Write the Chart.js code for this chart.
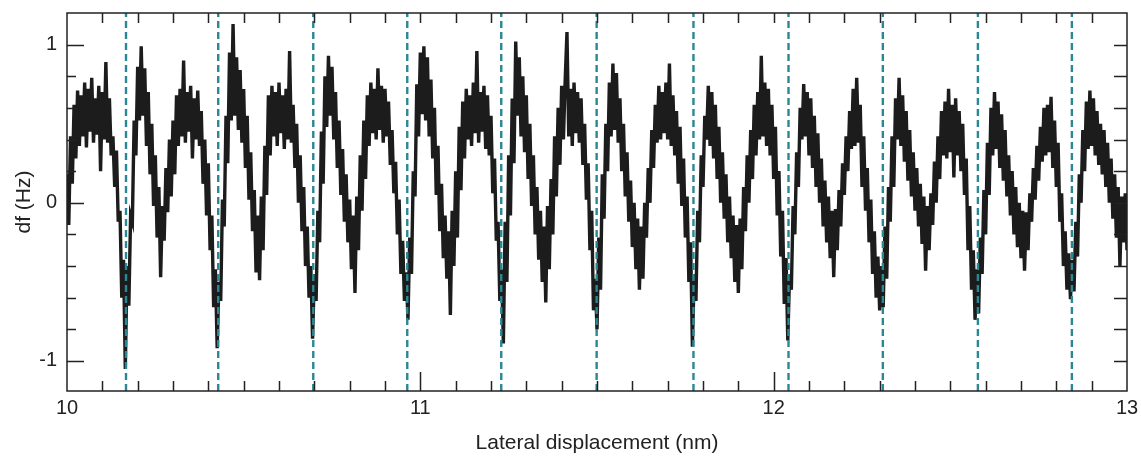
<!DOCTYPE html>
<html>
<head>
<meta charset="utf-8">
<title>df vs lateral displacement</title>
<script src="https://cdn.jsdelivr.net/npm/chart.js"></script>
<style>
  html, body { margin: 0; padding: 0; background: #fff; }
  #wrap { width: 1141px; height: 456px; }
</style>
</head>
<body>
<div id="wrap"><canvas id="dfChart" width="1141" height="456"></canvas></div>
<script>
// lateral displacement grid (nm): first sample and spacing
const xStart = 10;
const xStep = 0.005;

// df (Hz), one value per 0.005 nm
const dfValues = [
  0.18, -0.14, 0.42, 0.12, 0.62, 0.28, 0.71, 0.36, 0.68, 0.42, 0.76, 0.35, 0.72, 0.45, 0.79, 0.38, 0.66, 0.43, 0.74, 0.20,
  0.70, 0.40, 0.89, 0.38, 0.66, 0.30, 0.42, 0.10, 0.33, -0.12, -0.05, -0.60, -0.36, -1.05, -0.40, -0.65, -0.08, -0.12, 0.52, 0.30,
  0.86, 0.52, 0.99, 0.55, 0.85, 0.36, 0.70, 0.18, 0.50, -0.02, 0.30, -0.22, 0.10, -0.47, -0.02, -0.24, 0.22, -0.06, 0.40, 0.04,
  0.52, 0.18, 0.68, 0.36, 0.72, 0.42, 0.90, 0.38, 0.70, 0.45, 0.74, 0.28, 0.66, 0.40, 0.71, 0.36, 0.58, 0.12, 0.40, -0.08,
  0.25, -0.30, -0.08, -0.66, -0.42, -0.92, -0.50, -0.62, 0.02, -0.15, 0.55, 0.25, 0.95, 0.52, 1.13, 0.55, 0.92, 0.46, 0.84, 0.38,
  0.72, 0.22, 0.55, 0.02, 0.32, -0.18, 0.08, -0.44, -0.08, -0.49, 0.04, -0.30, 0.36, 0.05, 0.68, 0.30, 0.74, 0.42, 0.70, 0.36,
  0.76, 0.44, 0.68, 0.34, 0.72, 0.40, 0.96, 0.38, 0.62, 0.22, 0.50, 0.00, 0.30, -0.18, 0.10, -0.40, -0.15, -0.60, -0.40, -0.86,
  -0.45, -0.62, -0.05, -0.25, 0.45, 0.12, 0.80, 0.48, 0.93, 0.55, 0.86, 0.40, 0.70, 0.22, 0.52, 0.05, 0.34, -0.12, 0.18, -0.25,
  0.02, -0.42, -0.08, -0.57, 0.04, -0.30, 0.30, -0.05, 0.52, 0.15, 0.68, 0.36, 0.76, 0.44, 0.72, 0.40, 0.85, 0.46, 0.74, 0.38,
  0.72, 0.42, 0.64, 0.24, 0.46, 0.06, 0.26, -0.20, 0.02, -0.45, -0.24, -0.62, -0.44, -0.74, -0.22, -0.45, 0.20, 0.04, 0.75, 0.42,
  0.95, 0.56, 0.99, 0.52, 0.92, 0.42, 0.78, 0.28, 0.60, 0.05, 0.36, -0.18, 0.12, -0.35, -0.08, -0.48, -0.18, -0.71, -0.05, -0.40,
  0.20, -0.22, 0.48, 0.08, 0.64, 0.28, 0.72, 0.40, 0.68, 0.36, 0.76, 0.44, 0.96, 0.38, 0.70, 0.45, 0.74, 0.34, 0.68, 0.30,
  0.55, 0.06, 0.28, -0.24, -0.12, -0.62, -0.42, -0.89, -0.12, -0.50, 0.30, -0.08, 0.66, 0.25, 1.02, 0.55, 0.92, 0.42, 0.80, 0.32,
  0.68, 0.15, 0.50, -0.02, 0.30, -0.20, 0.10, -0.36, -0.05, -0.50, -0.15, -0.63, -0.02, -0.42, 0.15, -0.20, 0.42, 0.04, 0.60, 0.24,
  0.74, 0.40, 0.78, 1.08, 0.42, 0.72, 0.36, 0.76, 0.44, 0.70, 0.38, 0.66, 0.24, 0.50, 0.02, 0.25, -0.30, -0.05, -0.68, -0.48,
  -0.80, -0.22, -0.55, 0.18, -0.10, 0.50, 0.20, 0.76, 0.42, 0.88, 0.46, 0.82, 0.38, 0.66, 0.20, 0.50, 0.04, 0.32, -0.12, 0.14,
  -0.28, 0.00, -0.42, -0.10, -0.55, -0.15, -0.48, 0.00, -0.22, 0.22, 0.00, 0.46, 0.22, 0.62, 0.38, 0.74, 0.40, 0.70, 0.44, 0.76,
  0.40, 0.88, 0.36, 0.68, 0.30, 0.58, 0.12, 0.48, -0.02, 0.28, -0.22, 0.04, -0.50, -0.25, -0.91, -0.45, -0.62, -0.05, -0.25, 0.30,
  0.10, 0.55, 0.40, 0.74, 0.36, 0.70, 0.28, 0.62, 0.15, 0.48, 0.00, 0.32, -0.10, 0.18, -0.25, 0.04, -0.35, -0.08, -0.50, -0.14,
  -0.57, -0.10, -0.42, 0.10, -0.18, 0.30, 0.00, 0.46, 0.15, 0.62, 0.30, 0.70, 0.40, 0.93, 0.42, 0.76, 0.36, 0.72, 0.30, 0.62,
  0.15, 0.48, -0.08, 0.20, -0.34, -0.05, -0.64, -0.35, -0.87, -0.45, -0.55, -0.02, -0.20, 0.32, 0.10, 0.60, 0.40, 0.75, 0.42, 0.70,
  0.30, 0.66, 0.22, 0.55, 0.10, 0.44, 0.00, 0.28, -0.15, 0.14, -0.25, 0.04, -0.35, -0.05, -0.47, -0.04, -0.30, 0.08, -0.15, 0.25,
  0.05, 0.42, 0.20, 0.58, 0.34, 0.72, 0.36, 0.79, 0.38, 0.62, 0.10, 0.42, -0.05, 0.22, -0.25, 0.02, -0.45, -0.18, -0.60, -0.34,
  -0.68, -0.40, -0.66, -0.15, -0.48, 0.10, -0.12, 0.42, 0.10, 0.66, 0.40, 0.79, 0.36, 0.68, 0.26, 0.58, 0.14, 0.46, 0.04, 0.32,
  -0.05, 0.22, -0.15, 0.12, -0.26, 0.04, -0.43, -0.02, -0.30, 0.06, -0.14, 0.26, 0.00, 0.42, 0.15, 0.58, 0.30, 0.64, 0.28, 0.72,
  0.32, 0.62, 0.16, 0.66, 0.30, 0.58, 0.20, 0.50, 0.05, 0.28, -0.30, -0.02, -0.55, -0.30, -0.74, -0.42, -0.70, -0.22, -0.45, 0.08,
  -0.20, 0.38, 0.05, 0.60, 0.30, 0.70, 0.34, 0.64, 0.22, 0.56, 0.14, 0.46, 0.04, 0.30, -0.08, 0.20, -0.20, 0.10, -0.28, 0.00,
  -0.35, -0.05, -0.43, -0.06, -0.30, 0.06, -0.12, 0.22, 0.02, 0.36, 0.14, 0.48, 0.26, 0.60, 0.30, 0.62, 0.32, 0.67, 0.22, 0.52,
  0.10, 0.38, -0.12, 0.06, -0.40, -0.18, -0.55, -0.32, -0.61, -0.36, -0.56, -0.12, -0.34, 0.18, 0.00, 0.46, 0.20, 0.64, 0.34, 0.71,
  0.36, 0.66, 0.30, 0.58, 0.24, 0.50, 0.18, 0.46, 0.10, 0.38, 0.00, 0.28, -0.10, 0.18, -0.22, 0.10, -0.40, 0.04, -0.25, 0.06, -0.30,
];

// positions of the dashed marker lines (nm)
const minimaX = [10.167, 10.428, 10.697, 10.963, 11.229, 11.499, 11.773, 12.042, 12.309, 12.578, 12.844];

// axis limits and labelled ticks
const xRange = [10, 13];
const yRange = [-1.19, 1.2];
const xTickValues = [10, 11, 12, 13];
const yTickValues = [-1, 0, 1];

const traceColor = '#1c1c1c';
const markerColor = '#2a8794';
const axisColor = '#222';
const fontFamily = "'Liberation Sans', Arial, sans-serif";
const tickFont = { family: fontFamily, size: 20 };
const titleFont = { family: fontFamily, size: 21 };

const tracePoints = dfValues.map((v, i) => ({ x: xStart + i * xStep, y: v }));

const markerSets = minimaX.map((mx) => ({
  data: [{ x: mx, y: yRange[0] }, { x: mx, y: yRange[1] }],
  borderColor: markerColor,
  borderWidth: 2.4,
  borderDash: [7, 4],
  pointRadius: 0,
  order: 0,
}));

// box frame with inward ticks on all four sides
const frameTicks = {
  id: 'frameTicks',
  afterDatasetsDraw(chart) {
    const { ctx, chartArea: a, scales: { x, y } } = chart;
    ctx.save();
    ctx.strokeStyle = axisColor;
    ctx.lineWidth = 1.5;
    ctx.strokeRect(a.left, a.top, a.right - a.left, a.bottom - a.top);
    ctx.beginPath();
    for (let k = 1; k < 30; k += 1) {
      const px = Math.round(x.getPixelForValue(xRange[0] + k / 10)) + 0.5;
      const major = k % 10 === 0;
      ctx.moveTo(px, a.bottom);
      ctx.lineTo(px, a.bottom - (major ? 19 : 10));
      ctx.moveTo(px, a.top);
      ctx.lineTo(px, a.top + 10);
    }
    for (let k = -5; k <= 5; k += 1) {
      const py = Math.round(y.getPixelForValue(k / 5)) + 0.5;
      const major = k % 5 === 0;
      ctx.moveTo(a.left, py);
      ctx.lineTo(a.left + (major ? 17 : 9), py);
      ctx.moveTo(a.right, py);
      ctx.lineTo(a.right - 13, py);
    }
    ctx.stroke();
    ctx.restore();
  },
};

new Chart(document.getElementById('dfChart'), {
  type: 'line',
  data: {
    datasets: [
      {
        data: tracePoints,
        borderColor: traceColor,
        borderWidth: 3.4,
        pointRadius: 0,
        tension: 0,
        order: 1,
      },
      ...markerSets,
    ],
  },
  options: {
    responsive: false,
    animation: false,
    devicePixelRatio: 1,
    layout: { padding: { top: 13, right: 14, left: 0, bottom: 0 } },
    plugins: { legend: { display: false }, tooltip: { enabled: false } },
    scales: {
      x: {
        type: 'linear',
        min: xRange[0],
        max: xRange[1],
        grid: { display: false, drawTicks: false },
        border: { display: false },
        afterBuildTicks: (scale) => { scale.ticks = xTickValues.map((v) => ({ value: v })); },
        afterFit: (scale) => {
          scale.height = 65;
          scale.paddingLeft = 0;
          scale.paddingRight = 0;
        },
        ticks: { color: axisColor, font: tickFont, padding: 5, maxRotation: 0 },
        title: {
          display: true,
          text: 'Lateral displacement (nm)',
          color: axisColor,
          font: titleFont,
          padding: { top: 0, bottom: 0 },
        },
      },
      y: {
        type: 'linear',
        min: yRange[0],
        max: yRange[1],
        grid: { display: false, drawTicks: false },
        border: { display: false },
        afterBuildTicks: (scale) => { scale.ticks = yTickValues.map((v) => ({ value: v })); },
        afterFit: (scale) => {
          scale.width = 67;
          scale.paddingTop = 0;
          scale.paddingBottom = 0;
        },
        ticks: { color: axisColor, font: tickFont, padding: 10 },
        title: {
          display: true,
          text: 'df (Hz)',
          color: axisColor,
          font: titleFont,
          padding: { top: 12, bottom: 0 },
        },
      },
    },
  },
  plugins: [frameTicks],
});
</script>
</body>
</html>
